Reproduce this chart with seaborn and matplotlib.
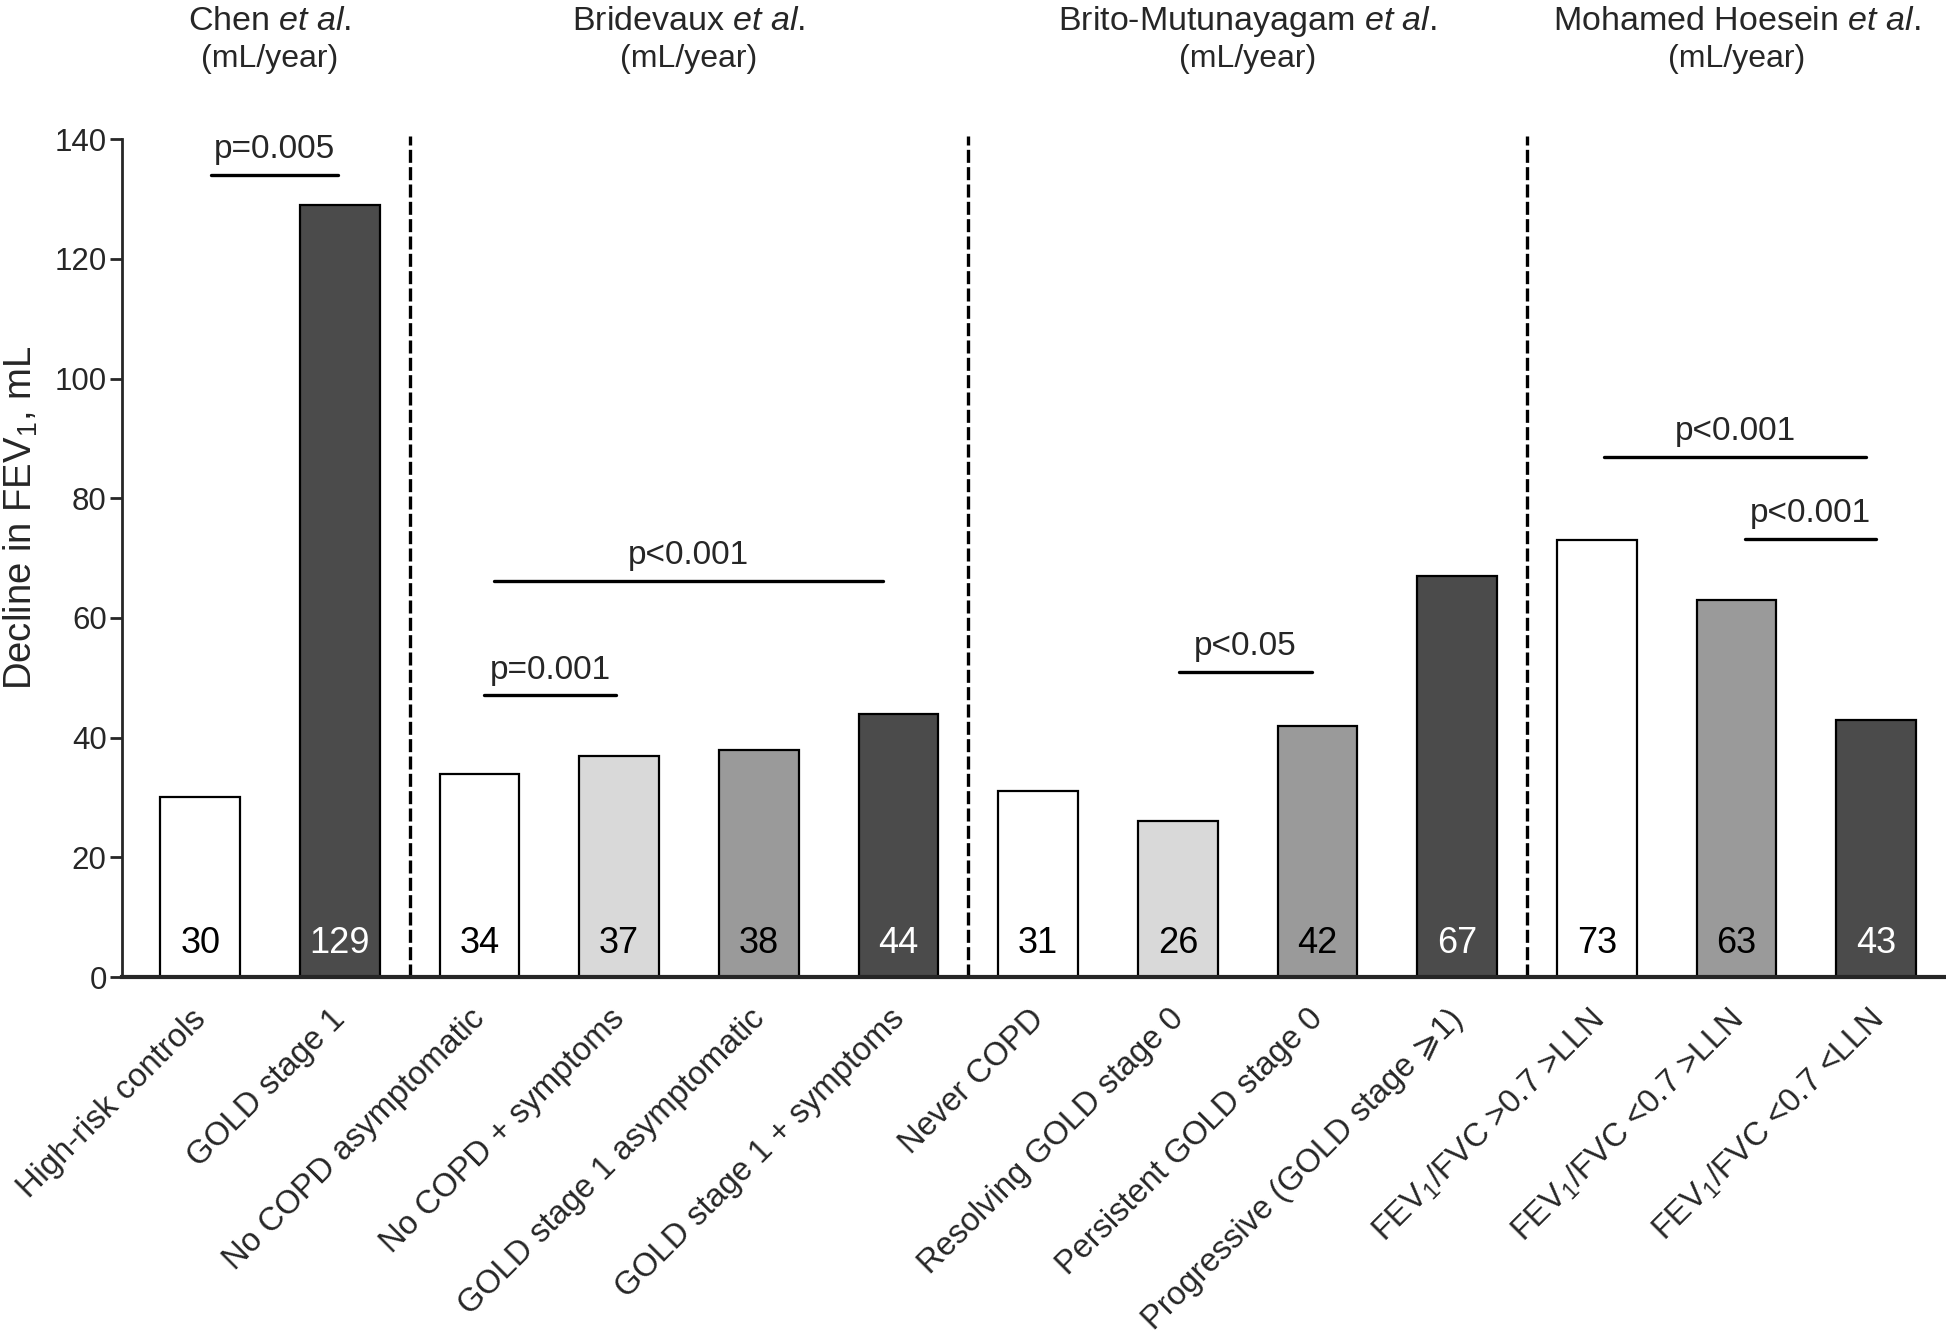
import matplotlib
matplotlib.use('Agg')
import matplotlib.pyplot as plt
import matplotlib.transforms as mtransforms
import pandas as pd
import seaborn as sns

# --- data ------------------------------------------------------------------
studies = ['Chen', 'Chen',
           'Bridevaux', 'Bridevaux', 'Bridevaux', 'Bridevaux',
           'Brito-Mutunayagam', 'Brito-Mutunayagam', 'Brito-Mutunayagam', 'Brito-Mutunayagam',
           'Mohamed Hoesein', 'Mohamed Hoesein', 'Mohamed Hoesein']
categories = ['High-risk controls', 'GOLD stage 1',
              'No COPD asymptomatic', 'No COPD + symptoms',
              'GOLD stage 1 asymptomatic', 'GOLD stage 1 + symptoms',
              'Never COPD', 'Resolving GOLD stage 0', 'Persistent GOLD stage 0',
              'Progressive (GOLD stage \u2a7e1)',
              'FEV$_1$/FVC >0.7 >LLN', 'FEV$_1$/FVC <0.7 >LLN', 'FEV$_1$/FVC <0.7 <LLN']
decline = [30, 129, 34, 37, 38, 44, 31, 26, 42, 67, 73, 63, 43]
shade = ['white', 'dark', 'white', 'light', 'mid', 'dark',
         'white', 'light', 'mid', 'dark', 'white', 'mid', 'dark']

# significance brackets: label, start, end (bar index units), height (mL)
p_labels = ['p=0.005', 'p=0.001', 'p<0.001', 'p<0.05', 'p<0.001', 'p<0.001']
p_start = [0.08, 2.03, 2.10, 7.01, 10.05, 11.06]
p_end = [0.99, 2.98, 4.89, 7.96, 11.93, 12.0]
p_height = [134.0, 47.1, 66.2, 51.0, 86.9, 73.2]

SHADE_COLORS = {'white': '#ffffff', 'light': '#d9d9d9', 'mid': '#9a9a9a', 'dark': '#4b4b4b'}
TEXT_COLORS = {'white': 'black', 'light': 'black', 'mid': 'black', 'dark': 'white'}

sns.set_style('ticks')
plt.rcParams['font.family'] = ['Liberation Sans', 'DejaVu Sans']
plt.rcParams['mathtext.fontset'] = 'custom'
plt.rcParams['mathtext.rm'] = 'Liberation Sans'
plt.rcParams['mathtext.it'] = 'Liberation Sans:italic'
plt.rcParams['mathtext.default'] = 'regular'

df = pd.DataFrame({'study': studies, 'category': categories,
                   'decline': decline, 'shade': shade})

fig = plt.figure(figsize=(19.46, 13.38), dpi=100)
ax = fig.add_axes([0.0627, 0.2698, 0.9373, 0.6262])

sns.barplot(data=df, x='category', y='decline', hue='shade',
            palette=SHADE_COLORS, dodge=False, width=0.57,
            edgecolor='black', linewidth=1.6, legend=False, ax=ax)

ax.set_xlim(-0.56, 12.5)
ax.set_ylim(0, 140)
ax.set_yticks(range(0, 141, 20))
ax.tick_params(axis='y', labelsize=22.5, length=9, width=2, direction='out', pad=2)
ax.tick_params(axis='x', length=0, pad=19)
sns.despine(ax=ax)
ax.spines['left'].set_linewidth(2)
ax.spines['bottom'].set_linewidth(3)
ax.set_xlabel('')
ax.set_ylabel('Decline in FEV$_1$, mL', fontsize=27.5)
ax.yaxis.set_label_coords(-0.045, 0.548)

ax.set_xticks(range(len(categories)))
ax.set_xticklabels(categories, rotation=45, ha='right', va='top',
                   rotation_mode='anchor', fontsize=23.5)
shift = mtransforms.ScaledTranslation(-10 / 100, 0, fig.dpi_scale_trans)
for lab in ax.get_xticklabels():
    lab.set_transform(lab.get_transform() + shift)

# value labels inside the bars
for i, (v, s) in enumerate(zip(decline, shade)):
    ax.text(i, 5.6, str(v), ha='center', va='center', fontsize=26,
            color=TEXT_COLORS[s])

# dashed separators between studies and study headers
order = list(dict.fromkeys(studies))
idx = {name: [i for i, s in enumerate(studies) if s == name] for name in order}
for name in order[:-1]:
    xb = idx[name][-1] + 0.5
    ax.vlines(xb, 0, 140.5, colors='black', linestyles=(0, (3.9, 1.3)),
              linewidth=2.4, clip_on=False)
head_tr = mtransforms.blended_transform_factory(ax.transData, fig.transFigure)
for name in order:
    xc = sum(idx[name]) / len(idx[name])
    ax.text(xc, 0.984, name + r' $\mathit{et\ al.}$', transform=head_tr,
            ha='center', va='center', fontsize=24.5)
    ax.text(xc, 0.956, '(mL/year)', transform=head_tr,
            ha='center', va='center', fontsize=23)

# significance brackets
for lab, x0, x1, y in zip(p_labels, p_start, p_end, p_height):
    ax.plot([x0, x1], [y, y], color='black', linewidth=2.4, clip_on=False)
    ax.text((x0 + x1) / 2, y + 1.6, lab, ha='center', va='bottom', fontsize=24)

fig.savefig('out.png', dpi=100)
plt.close(fig)
